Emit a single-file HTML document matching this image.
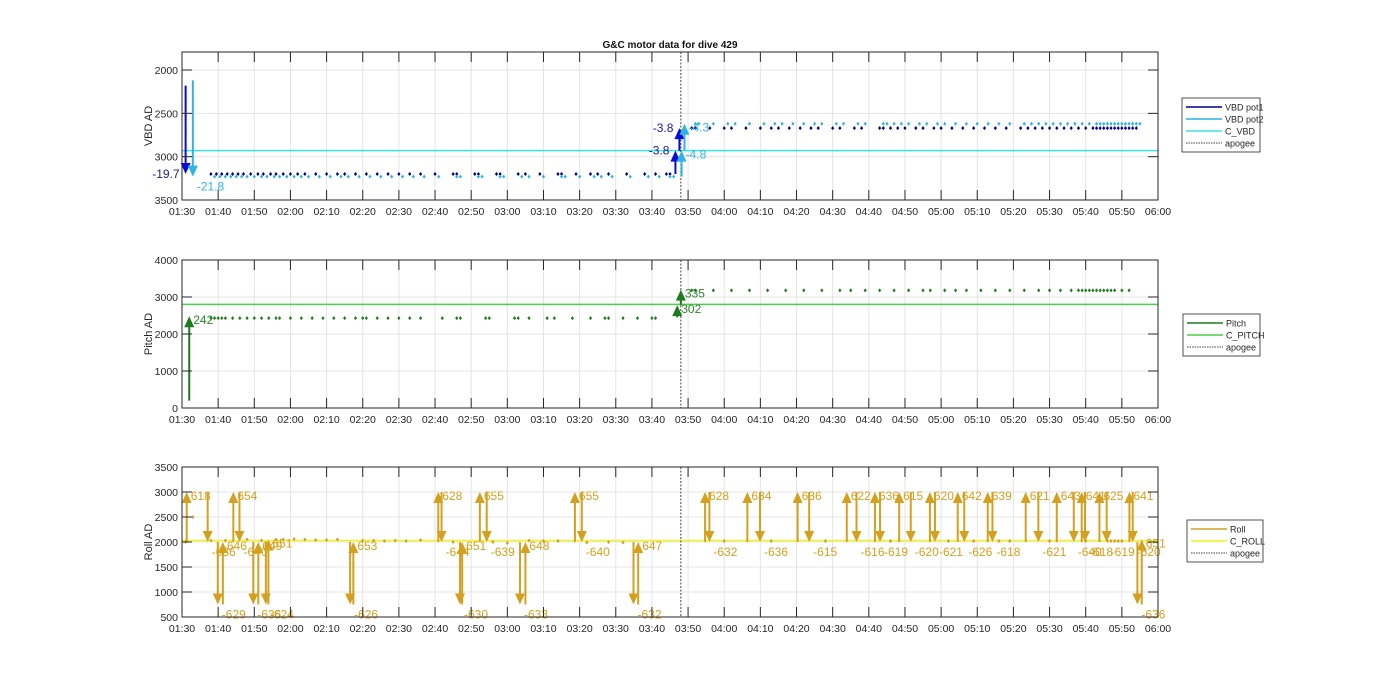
<!DOCTYPE html>
<html><head><meta charset="utf-8"><style>
body{margin:0;background:#fff;width:1400px;height:693px;overflow:hidden;font-family:"Liberation Sans",Arial,sans-serif}
svg text{font-family:"Liberation Sans",Arial,sans-serif}
</style></head><body>
<svg id="c" width="1400" height="693"></svg>
<script>
const xTickLabels=["01:30","01:40","01:50","02:00","02:10","02:20","02:30","02:40","02:50","03:00","03:10","03:20","03:30","03:40","03:50","04:00","04:10","04:20","04:30","04:40","04:50","05:00","05:10","05:20","05:30","05:40","05:50","06:00"];
const apogeeT=138;
const pot1Times=[8,9.5,11,12.5,14,15.5,17,19,21,22.5,24.5,26,28,30,32,34,37,40,43,45,48,51,54,57,60,63,66,70,75,76,81,82,87,88,93,95,99,104,105,109,113,115,118,123,128,131,134,135,141,142,146,150,152,156,160,163,165,168,171,174,176,180,182,186,188,193,194,196,198,200,203,205,208,210,213,216,219,222,225,228,232,234,236,238,240,242,244,246,248,250,252,253,254,255,256,257,258,259,260,261,262,263,264];
const pot1Vals=pot1Times.map(t=>t<138?3200:2670);
const pot2Times=pot1Times.map(t=>t+1);
const pot2Vals=pot1Times.map(t=>t<138?3230:2620);
const cVBD=2930;
const vbdArrows=[[1,2180,3200,"-19.7","p1"],[3,2120,3230,"-21.8","p2"],[136.5,3200,2930,"-3.8","p1"],[137.6,2930,2670,"-3.8","p1"],[138.2,3230,2930,"-4.8","p2"],[139,2930,2620,"-4.3","p2"]];
const pitchTimes=[8,9,10,11,12,14,16,18,20,22,24,26,27,30,33,36,39,42,45,48,50,51,54,57,60,63,66,72,76,77,84,85,92,93,96,101,103,108,113,117,118,122,126,130,131,141,142,147,152,157,162,167,172,177,182,185,189,193,197,201,205,207,211,214,217,221,225,229,233,237,240,243,246,248,249,250,251,252,253,254,255,256,257,258,260,262];
const pitchVals=pitchTimes.map(t=>t<138?2430:3180);
const cPitch=2800;
const pitchArrows=[[2,200,2480,"242"],[137,2450,2780,"302"],[138,2780,3200,"335"]];
const rollTimes=[1,3,8,12,18,22,26,28,31,34,37,40,43,50,53,56,59,62,66,75,86,90,96,100,104,112,118,122,150,163,178,196,212,219,226,229,240,250,256,257,258,259,260];
const rollVals=[2000,2500,2030,2030,2050,2030,2050,2050,2060,2050,2040,2040,2050,2030,2030,2020,2030,2020,2040,2000,2000,1980,2030,2020,2020,1990,2000,1990,2020,2020,2020,2020,2020,2020,2020,2020,2020,2020,2020,2020,2020,2020,2020];
const cRoll=2030;
const rollArrows=[[1.3,2000,3000,"618"],[7.1,3000,2000,"-636"],[9.9,2000,750,"-629"],[11.3,750,2000,"646"],[14.2,2000,3000,"654"],[15.9,3000,2000,"-640"],[19.7,2000,750,"-636"],[21.1,750,2000,"649"],[23.2,2000,750,"-624"],[23.9,750,2050,"651"],[46.5,2000,750,"-626"],[47.4,750,2000,"653"],[70.9,2000,3000,"628"],[71.8,3000,2000,"-644"],[76.9,2000,750,"-630"],[77.5,750,2000,"651"],[82.4,2000,3000,"655"],[84.3,3000,2000,"-639"],[93.5,2000,750,"-633"],[95,750,2000,"648"],[108.7,2000,3000,"655"],[110.6,3000,2000,"-640"],[124.9,2000,750,"-632"],[126.2,750,2000,"647"],[144.7,2000,3000,"628"],[145.9,3000,2000,"-632"],[156.4,2000,3000,"634"],[159.9,3000,2000,"-636"],[170.3,2000,3000,"636"],[173.5,3000,2000,"-615"],[183.9,2000,3000,"622"],[186.6,3000,2000,"-616"],[191.7,2000,3000,"636"],[193.1,3000,2000,"-619"],[198.4,2000,3000,"615"],[201.6,3000,2000,"-620"],[206.9,2000,3000,"620"],[208.3,3000,2000,"-621"],[214.6,2000,3000,"642"],[216.4,3000,2000,"-626"],[222.9,2000,3000,"639"],[224.2,3000,2000,"-618"],[233.4,2000,3000,"621"],[236.9,3000,2000,"-621"],[242,2000,3000,"643"],[246.7,3000,2000,"-640"],[248.9,2000,3000,"641"],[249.8,3000,2000,"-618"],[253.8,2000,3000,"625"],[255.8,3000,2000,"-619"],[262.1,2000,3000,"641"],[263,3000,2000,"-620"],[264.3,2000,750,"-636"],[265.5,750,2050,"651"]];

const NS="http://www.w3.org/2000/svg";
const svg=document.getElementById('c');
function el(tag,attrs,parent){const e=document.createElementNS(NS,tag);for(const k in attrs)e.setAttribute(k,attrs[k]);(parent||svg).appendChild(e);return e;}
const X0=182,X1=1158;
function xs(t){return X0+t*(X1-X0)/270;}
function mkY(p){return v=>{let f=(v-p.min)/(p.max-p.min);return p.rev?p.top+f*(p.bot-p.top):p.bot-f*(p.bot-p.top);};}
function axes(p,name,ylabel,yticks){
  const g=el('g',{});
  
  
  const y=mkY(p);
  el('rect',{x:X0,y:p.top,width:X1-X0,height:p.bot-p.top,fill:'#fff'},g);
  xTickLabels.forEach((l,i)=>{const x=xs(i*10);
    el('line',{x1:x,x2:x,y1:p.top,y2:p.bot,stroke:'#e4e4e4','stroke-width':1},g);});
  yticks.forEach(v=>{const yy=y(v);el('line',{x1:X0,x2:X1,y1:yy,y2:yy,stroke:'#e4e4e4'},g);});
  p.g=g;p.y=y;p.yticks=yticks;p.ylabel=ylabel;return g;
}
function frame(p){
  const g=p.g,y=p.y;
  el('rect',{x:X0,y:p.top,width:X1-X0,height:p.bot-p.top,fill:'none',stroke:'#262626','stroke-width':1},g);
  xTickLabels.forEach((l,i)=>{const x=xs(i*10);
    el('line',{x1:x,x2:x,y1:p.bot,y2:p.bot-10,stroke:'#262626'},g);
    el('line',{x1:x,x2:x,y1:p.top,y2:p.top+10,stroke:'#262626'},g);
    const t=el('text',{x:x,y:p.bot+15,'font-size':10.5,'text-anchor':'middle',fill:'#262626'},g);t.textContent=l;
    
    });
  p.yticks.forEach(v=>{const yy=y(v);
    el('line',{x1:X0,x2:X0+10,y1:yy,y2:yy,stroke:'#262626'},g);
    el('line',{x1:X1,x2:X1-10,y1:yy,y2:yy,stroke:'#262626'},g);
    const t=el('text',{x:X0-4,y:yy+4,'font-size':10.5,'text-anchor':'end',fill:'#262626'},g);t.textContent=v;
    
    });
  const yl=el('text',{transform:`translate(152,${(p.top+p.bot)/2}) rotate(-90)`,'font-size':11,'text-anchor':'middle',fill:'#262626'},g);
  yl.textContent=p.ylabel;
  
  
}
function hline(p,v,color,name){const l=el('line',{x1:X0,x2:X1,y1:p.y(v),y2:p.y(v),stroke:color,'stroke-width':1.5},p.g);
  }
function apogee(p){const l=el('line',{x1:xs(apogeeT),x2:xs(apogeeT),y1:p.top,y2:p.bot,stroke:'#444','stroke-width':1,'stroke-dasharray':'2,1.5'},p.g);
  }
function pts(p,times,vals,color,name){times.forEach((t,i)=>{const x=xs(t),y=p.y(vals[i]);
  const c=el('polygon',{points:`${x},${y-2} ${x+1.6},${y} ${x},${y+2} ${x-1.6},${y}`,fill:color},p.g);
  });}
function arrow(p,t,v0,v1,color,label,lcolor,lpos,name){
  const x=xs(t),y0=p.y(v0),y1=p.y(v1),dir=y1<y0?-1:1;
  const g=el('g',{},p.g);
  
  el('line',{x1:x,x2:x,y1:y0,y2:y1-dir*10,stroke:color,'stroke-width':2},g);
  el('polygon',{points:`${x},${y1} ${x-5},${y1-dir*11} ${x+5},${y1-dir*11}`,fill:color},g);
  let lx=x+4,ly=dir<0?y1+8:y1+14,anchor='start';
  if(lpos==='left'){lx=x-6;ly=y1+4;anchor='end';}
  const tx=el('text',{x:lx,y:ly,'font-size':12,fill:lcolor,'text-anchor':anchor},g);tx.textContent=label;
}
function legend(x,y,w,entries,name){
  const g=el('g',{});
  el('rect',{x:x,y:y,width:w,height:entries.length*12+6,fill:'#fff',stroke:'#262626','stroke-width':0.8},g);
  entries.forEach((e,i)=>{const yy=y+9+i*12;
    el('line',{x1:x+4,x2:x+40,y1:yy,y2:yy,stroke:e[1],'stroke-width':e[2]?1:1.5,'stroke-dasharray':e[2]?'1.5,1':''},g);
    const t=el('text',{x:x+43,y:yy+3.5,'font-size':9,fill:'#262626'},g);t.textContent=e[0];});
}
const ti=el('text',{x:670,y:48,'font-size':10,'font-weight':'bold','text-anchor':'middle',fill:'#111'});
ti.textContent='G&C motor data for dive 429';


const P1={top:52,bot:200,min:1792,max:3500,rev:true};
axes(P1,'vbd-panel','VBD AD',[2000,2500,3000,3500]);
hline(P1,cVBD,'#3fe0e0','c-vbd-line');
apogee(P1);
pts(P1,pot1Times,pot1Vals,'#00008b','vbd-pot1-point');
pts(P1,pot2Times,pot2Vals,'#2db4e6','vbd-pot2-point');
vbdArrows.forEach(a=>{const c=a[4]==='p1'?'#0a0ad0':'#2db4e6',lc=a[4]==='p1'?'#1a1a9c':'#2db4e6';
  let pos=(a[4]==='p1')?'left':'right';
  arrow(P1,a[0],a[1],a[2],c,a[3],lc,pos,'vbd-arrow');});
frame(P1);

const P2={top:260,bot:408,min:0,max:4000};
axes(P2,'pitch-panel','Pitch AD',[0,1000,2000,3000,4000]);
hline(P2,cPitch,'#4ccf4c','c-pitch-line');
apogee(P2);
pts(P2,pitchTimes,pitchVals,'#1e7b1e','pitch-point');
pitchArrows.forEach(a=>arrow(P2,a[0],a[1],a[2],'#1e7b1e',a[3],'#2a8a2a','right','pitch-arrow'));
frame(P2);

const P3={top:467,bot:617,min:500,max:3500};
axes(P3,'roll-panel','Roll AD',[500,1000,1500,2000,2500,3000,3500]);
hline(P3,cRoll,'#f2f21c','c-roll-line');
apogee(P3);
pts(P3,rollTimes,rollVals,'#c9a227','roll-point');
rollArrows.forEach(a=>arrow(P3,a[0],a[1],a[2],'#d4a020',a[3],'#d4a020','right','roll-arrow'));
frame(P3);

legend(1182,98,78,[['VBD pot1','#00008b'],['VBD pot2','#2db4e6'],['C_VBD','#3fe0e0'],['apogee','#444',1]],'vbd-legend');
legend(1183,314,77,[['Pitch','#1e7b1e'],['C_PITCH','#4ccf4c'],['apogee','#444',1]],'pitch-legend');
legend(1187,520,76,[['Roll','#d4a020'],['C_ROLL','#f2f21c'],['apogee','#444',1]],'roll-legend');
</script>
</body></html>
